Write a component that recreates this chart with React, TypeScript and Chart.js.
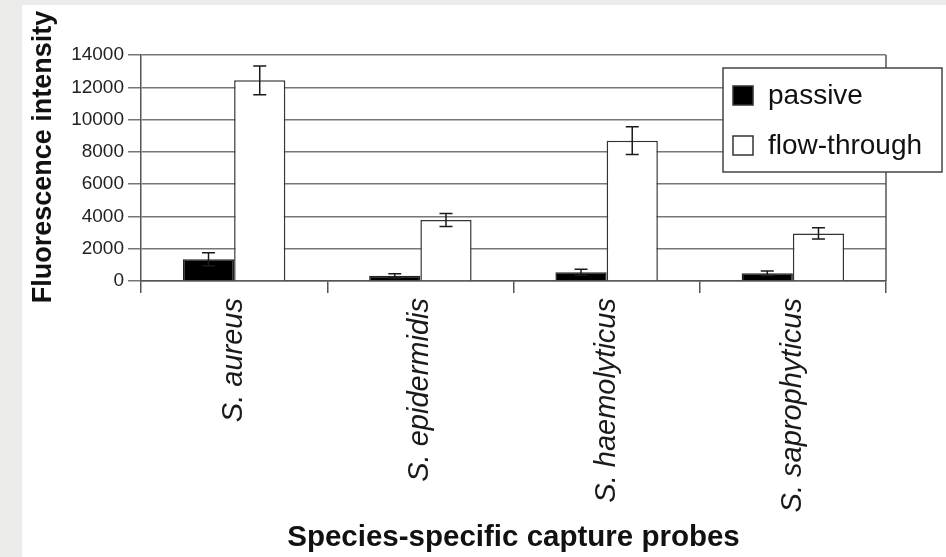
import { useEffect, useRef } from 'react';
import { Chart, registerables } from 'chart.js';

Chart.register(...registerables);

const categories = ['S. aureus', 'S. epidermidis', 'S. haemolyticus', 'S. saprophyticus'];
const seriesNames = ['passive', 'flow-through'];
const passive = [1350, 320, 540, 480];
const passiveErr = [400, 130, 190, 140];
const flowThrough = [12430, 3780, 8690, 2950];
const flowThroughErr = [885, 405, 860, 350];
const yTicks = [0, 2000, 4000, 6000, 8000, 10000, 12000, 14000];
const yTitle = 'Fluorescence intensity';
const xTitle = 'Species-specific capture probes';

const FONT = "'Liberation Sans', Arial, Helvetica, sans-serif";
const errorsByDataset = [passiveErr, flowThroughErr];

const errorBarPlugin = {
  id: 'errorBars',
  afterDatasetsDraw(chart: any) {
    const ctx = chart.ctx;
    const y = chart.scales.y;
    ctx.save();
    ctx.strokeStyle = '#1a1a1a';
    ctx.lineWidth = 1.5;
    chart.data.datasets.forEach((ds: any, di: number) => {
      const meta = chart.getDatasetMeta(di);
      const errs = errorsByDataset[di];
      meta.data.forEach((bar: any, i: number) => {
        const v = ds.data[i];
        const e = errs[i];
        const yTop = y.getPixelForValue(v + e);
        const yBot = y.getPixelForValue(Math.max(0, v - e));
        const x = bar.x;
        const cap = 6.5;
        ctx.beginPath();
        ctx.moveTo(x, yTop);
        ctx.lineTo(x, yBot);
        ctx.moveTo(x - cap, yTop);
        ctx.lineTo(x + cap, yTop);
        ctx.moveTo(x - cap, yBot);
        ctx.lineTo(x + cap, yBot);
        ctx.stroke();
      });
    });
    ctx.restore();
  },
};

const framePlugin = {
  id: 'frame',
  afterDraw(chart: any) {
    const { ctx, chartArea } = chart;
    ctx.save();
    ctx.strokeStyle = '#555';
    ctx.lineWidth = 1.5;
    ctx.beginPath();
    ctx.moveTo(chartArea.right, chartArea.top);
    ctx.lineTo(chartArea.right, chartArea.bottom);
    ctx.stroke();
    // vertical axis title
    ctx.translate(43.5, chartArea.top + (chartArea.bottom - chartArea.top) / 2 - 11);
    ctx.rotate(-Math.PI / 2);
    ctx.font = `bold 27px ${FONT}`;
    ctx.fillStyle = '#111';
    ctx.textAlign = 'center';
    ctx.textBaseline = 'middle';
    ctx.fillText(yTitle, 0, 0);
    ctx.restore();
  },
};

const legendPlugin = {
  id: 'boxLegend',
  afterDraw(chart: any) {
    const { ctx, chartArea } = chart;
    const bx = chartArea.right - 163;
    const by = chartArea.top + 13;
    const bw = 219;
    const bh = 104;
    ctx.save();
    ctx.fillStyle = '#ffffff';
    ctx.fillRect(bx, by, bw, bh);
    ctx.strokeStyle = '#444';
    ctx.lineWidth = 1.5;
    ctx.strokeRect(bx, by, bw, bh);
    ctx.font = `28px ${FONT}`;
    ctx.textBaseline = 'middle';
    ctx.textAlign = 'left';
    chart.data.datasets.forEach((ds: any, i: number) => {
      const sx = bx + 10;
      const sy = by + 18 + i * 50;
      ctx.fillStyle = ds.backgroundColor;
      ctx.fillRect(sx, sy, 20, 19);
      ctx.strokeStyle = '#333';
      ctx.lineWidth = 1.5;
      ctx.strokeRect(sx, sy, 20, 19);
      ctx.fillStyle = '#111';
      ctx.fillText(ds.label, bx + 45, sy + 10);
    });
    ctx.restore();
  },
};

export default function App() {
  const ref = useRef<HTMLCanvasElement>(null);
  useEffect(() => {
    const chart = new Chart(ref.current as HTMLCanvasElement, {
      type: 'bar',
      data: {
        labels: categories,
        datasets: [
          {
            label: seriesNames[0],
            data: passive,
            backgroundColor: '#000000',
            borderColor: '#222',
            borderWidth: 1.5,
            categoryPercentage: 0.55,
            barPercentage: 1.0,
          },
          {
            label: seriesNames[1],
            data: flowThrough,
            backgroundColor: '#ffffff',
            borderColor: '#333',
            borderWidth: 1.5,
            categoryPercentage: 0.55,
            barPercentage: 1.0,
          },
        ],
      },
      options: {
        responsive: false,
        animation: false,
        devicePixelRatio: 1,
        layout: { padding: { left: 0, top: 55, right: 60, bottom: 0 } },
        plugins: {
          legend: { display: false },
          tooltip: { enabled: false },
        },
        scales: {
          x: {
            offset: true,
            afterFit: (scale: any) => {
              scale.height = 276;
            },
            grid: {
              offset: true,
              drawOnChartArea: false,
              drawTicks: true,
              tickLength: 12,
              color: '#555',
              lineWidth: 1.5,
            },
            border: { display: true, color: '#555', width: 1.5 },
            ticks: {
              autoSkip: false,
              minRotation: 90,
              maxRotation: 90,
              padding: 5,
              color: '#1a1a1a',
              font: { family: FONT, size: 29, style: 'italic' },
            },
            title: {
              display: true,
              text: xTitle,
              color: '#111',
              font: { family: FONT, size: 29.5, weight: 'bold' },
              padding: { top: 0, bottom: 1 },
            },
          },
          y: {
            min: 0,
            max: 14000,
            afterFit: (scale: any) => {
              scale.width = 141;
            },
            afterBuildTicks: (scale: any) => {
              scale.ticks = yTicks.map((v) => ({ value: v }));
            },
            grid: {
              color: '#777',
              lineWidth: 1.5,
              drawTicks: true,
              tickLength: 13,
            },
            border: { display: true, color: '#555', width: 1.5 },
            ticks: {
              padding: 4,
              color: '#222',
              font: { family: FONT, size: 19 },
              callback: (v: any) => String(v),
            },
            title: { display: false },
          },
        },
      },
      plugins: [errorBarPlugin, framePlugin, legendPlugin],
    });
    return () => chart.destroy();
  }, []);

  return (
    <div
      style={{
        position: 'absolute',
        left: 0,
        top: 0,
        width: 946,
        height: 557,
        background: '#ebebe9',
        overflow: 'hidden',
      }}
    >
      <div style={{ position: 'absolute', left: 22, top: 5, right: 0, bottom: 0, background: '#ffffff' }} />
      <canvas
        ref={ref}
        width={946}
        height={557}
        style={{ position: 'absolute', left: 0, top: 0, width: 946, height: 557 }}
      />
    </div>
  );
}
